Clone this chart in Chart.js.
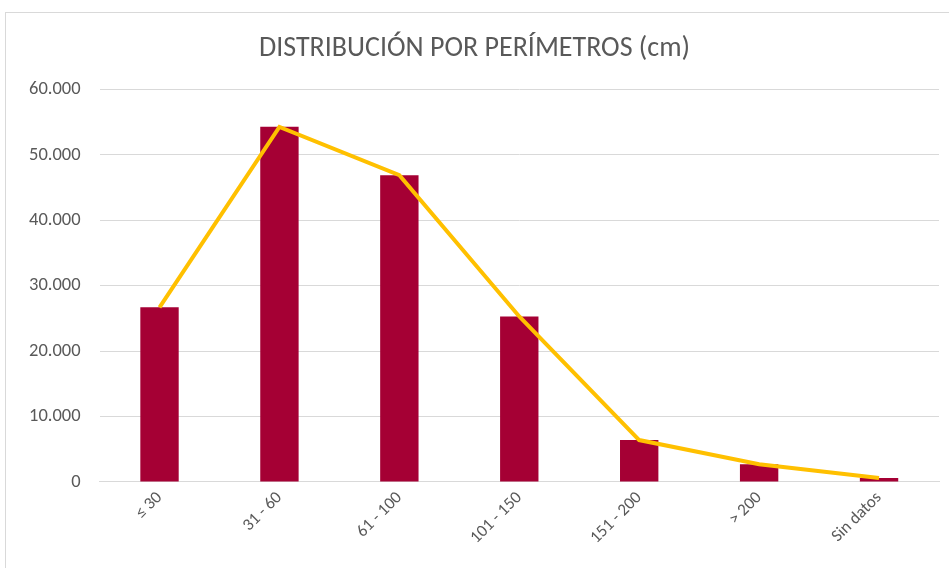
<!DOCTYPE html>
<html>
<head>
<meta charset="utf-8">
<script src="https://cdn.jsdelivr.net/npm/chart.js@4"></script>
<style>
  html, body { margin: 0; padding: 0; background: #fff; overflow: hidden; }
  .frame {
    position: absolute; left: 5px; top: 12px;
    width: 1000px; height: 1000px;
    border: 1px solid #d9d9d9;
  }
  .wrap { position: absolute; left: 0; top: 0; width: 949px; height: 568px; }
</style>
</head>
<body>
<div class="frame"></div>
<div class="wrap"><canvas id="myChart"></canvas></div>
<script>
  const categories = ["≤ 30", "31 - 60", "61 - 100", "101 - 150", "151 - 200", "> 200", "Sin datos"];
  const cantidades = [26700, 54300, 46900, 25300, 6400, 2700, 600];
  const yTicks = [0, 10000, 20000, 30000, 40000, 50000, 60000];

  const fontFamily = 'Carlito, "Liberation Sans Narrow", Lato, sans-serif';

  function generateChart() {
    const info = {
      labels: categories,
      datasets: [
        {
          type: "line",
          data: cantidades,
          borderColor: "#ffc000",
          borderWidth: 4,
          pointRadius: 0,
          tension: 0,
          order: 0,
        },
        {
          type: "bar",
          data: cantidades,
          backgroundColor: "#a50034",
          barPercentage: 0.32,
          categoryPercentage: 1,
          order: 1,
        },
      ],
    };
    const options = {
      responsive: true,
      maintainAspectRatio: false,
      animation: false,
      layout: { padding: { left: 10, right: 10, top: 0, bottom: 14 } },
      scales: {
        y: {
          min: 0,
          max: 60000,
          afterBuildTicks: (axis) => {
            axis.ticks = yTicks.map((v) => ({ value: v }));
          },
          ticks: {
            color: "#595959",
            padding: 19,
            font: { family: fontFamily, size: 18.5 },
            callback: (v) => v.toLocaleString("de-DE"),
          },
          grid: {
            color: "#d9d9d9",
            drawTicks: false,
          },
          border: { display: false },
        },
        x: {
          ticks: {
            color: "#595959",
            minRotation: 45,
            maxRotation: 45,
            padding: 6,
            font: { family: fontFamily, size: 17 },
          },
          grid: { display: false, drawTicks: false },
          border: { color: "#d9d9d9", width: 1 },
        },
      },
      plugins: {
        legend: { display: false },
        tooltip: { enabled: false },
        title: {
          display: true,
          text: "DISTRIBUCIÓN POR PERÍMETROS (cm)",
          color: "#595959",
          font: { family: fontFamily, size: 28, weight: "normal" },
          padding: { top: 32, bottom: 24 },
        },
      },
    };
    const config = {
      data: info,
      options,
    };
    const myChart = new Chart(document.getElementById("myChart"), config);
  }
  generateChart();
</script>
</body>
</html>
